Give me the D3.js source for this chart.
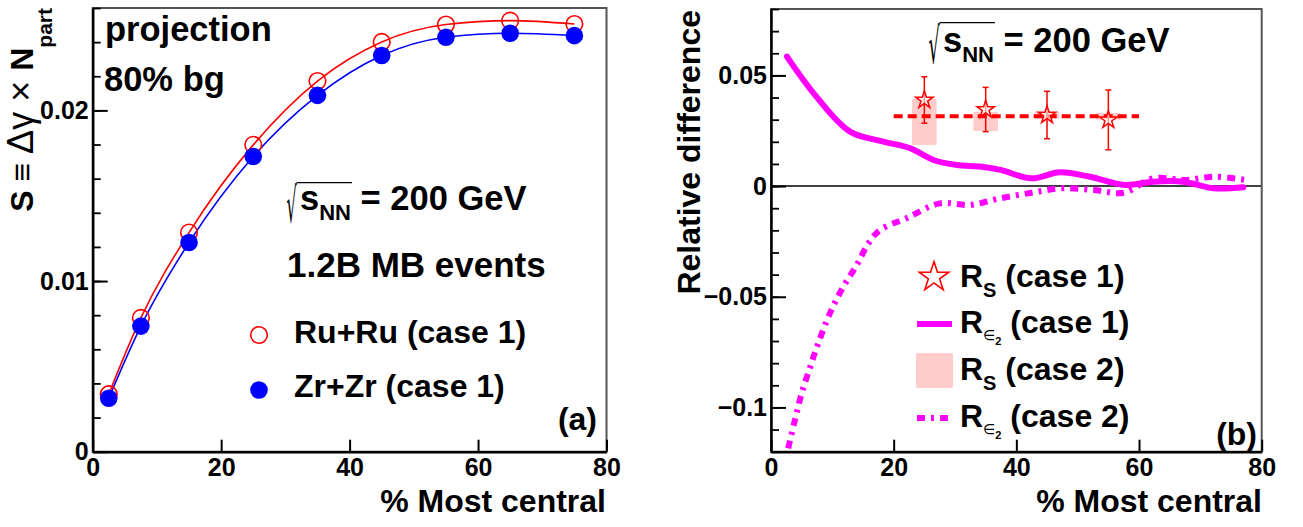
<!DOCTYPE html>
<html><head><meta charset="utf-8">
<script src="https://cdn.jsdelivr.net/npm/d3@7"></script>
<style>
body{margin:0;background:#fff}
svg{display:block}
text{font-family:"Liberation Sans",Arial,Helvetica,sans-serif;font-weight:bold;fill:#000}
</style>
</head><body>
<svg id="c" width="1303" height="527"></svg>
<script>
// ---------------- data ----------------
const centrality = [2.5, 7.5, 15, 25, 35, 45, 55, 65, 75];
const ruRu = [0.00337, 0.00784, 0.01284, 0.01798, 0.02172, 0.02401, 0.02503, 0.02526, 0.02506];
const zrZr = [0.00313, 0.00736, 0.01226, 0.01730, 0.02088, 0.02322, 0.02429, 0.02452, 0.02438];
const xTickValues = [0, 20, 40, 60, 80];
const yTicksA = [0, 0.01, 0.02];
const yTicksB = [-0.1, -0.05, 0, 0.05];

const rsX = [25, 35, 45, 55];
const rsCase1 = [0.0389, 0.0346, 0.0321, 0.0299];
const rsCase1Err = [0.0105, 0.0100, 0.0107, 0.0135];
const rsCase2Lo = [0.0186, 0.0249, 0.0305, 0.0300];
const rsCase2Hi = [0.0393, 0.0335, 0.0335, 0.0330];
const rsMean = 0.0316;
const rsMeanRange = [20, 60];

const e2Case1X = [2.6, 7.4, 12.9, 18.3, 22.7, 26.5, 30.3, 34.1, 37.4, 42.5, 47.1, 52.0, 57.7, 62.3, 67.2, 72.1, 77.0];
const e2Case1Y = [0.0585, 0.0404, 0.0246, 0.0201, 0.0171, 0.0118, 0.0095, 0.0088, 0.0073, 0.0035, 0.0062, 0.0042, 0.0005, 0.0020, 0.0020, -0.0010, -0.0005];
const e2Case2X = [2.8, 3.9, 5.0, 6.4, 7.7, 9.6, 11.8, 14.0, 15.9, 17.8, 22.1, 27.5, 32.4, 37.4, 42.5, 47.4, 52.6, 57.5, 62.3, 67.5, 72.4, 77.3];
const e2Case2Y = [-0.1185, -0.1057, -0.0936, -0.0816, -0.0710, -0.0575, -0.0454, -0.0356, -0.0258, -0.0198, -0.0145, -0.0078, -0.0085, -0.0055, -0.0030, -0.0010, -0.0018, -0.0030, 0.0035, 0.0028, 0.0042, 0.0028];

// ---------------- setup ----------------
const svg = d3.select('#c');
const RED = '#ff0000', BLUE = '#0000ff', MAG = '#ff00ff', PINK = '#ffcccc';

const xA = d3.scaleLinear([0, 80], [92.7, 606.5]);
const yA = d3.scaleLinear([0, 0.026], [451.7, 8]);
const xB = d3.scaleLinear([0, 80], [771, 1261.7]);
const yB = d3.scaleLinear([-0.12, 0.08], [451.7, 9]);

function drawAxes(x, y, yMajor, yMinorStep, fmt) {
  const g = svg.append('g');
  const [x0, x1] = x.range(), [y0, y1] = y.range();
  g.append('rect').attr('x', x0).attr('y', y1).attr('width', x1 - x0).attr('height', y0 - y1)
    .attr('fill', 'none').attr('stroke', '#555').attr('stroke-width', 2);
  const [d0, d1] = y.domain();
  const minor = d3.range(Math.round(d0 / yMinorStep), Math.round(d1 / yMinorStep) + 1).map(i => i * yMinorStep);
  g.append('g').attr('transform', `translate(${x0},0)`)
    .call(d3.axisLeft(y).tickValues(minor).tickSize(-8).tickSizeOuter(0).tickFormat(''))
    .call(s => s.select('.domain').remove())
    .call(s => s.selectAll('line').attr('stroke', '#000').attr('stroke-width', 1.8));
  g.append('g').attr('transform', `translate(${x0},0)`)
    .call(d3.axisLeft(y).tickValues(yMajor).tickSize(-15).tickSizeOuter(0).tickPadding(4).tickFormat(fmt))
    .call(s => s.select('.domain').attr('stroke', '#000').attr('stroke-width', 2.5))
    .call(s => s.selectAll('line').attr('stroke', '#000').attr('stroke-width', 2))
    .call(s => s.selectAll('text').attr('font-size', 25).style('font-family', '"Liberation Sans",Arial,sans-serif').style('font-weight', 'bold'));
  g.append('g').attr('transform', `translate(0,${y0})`)
    .call(d3.axisBottom(x).tickValues(xTickValues).tickSize(-12).tickSizeOuter(0).tickPadding(7).tickFormat(d3.format('d')))
    .call(s => s.select('.domain').attr('stroke', '#000').attr('stroke-width', 2.5))
    .call(s => s.selectAll('line').attr('stroke', '#000').attr('stroke-width', 2))
    .call(s => s.selectAll('text').attr('font-size', 25).style('font-family', '"Liberation Sans",Arial,sans-serif').style('font-weight', 'bold'));
  return g;
}

function label(x, y, s, size, anchor) {
  return svg.append('text').attr('x', x).attr('y', y).attr('font-size', size)
    .attr('text-anchor', anchor || 'start').text(s);
}

function radical(x0, x1, y0, y1) {
  const fs = 40;
  const ctx = document.createElement('canvas').getContext('2d');
  ctx.font = `${fs}px "DejaVu Sans"`;
  const m = ctx.measureText('\u221A');
  const inkL = -m.actualBoundingBoxLeft, inkR = m.actualBoundingBoxRight;
  const inkT = -m.actualBoundingBoxAscent, inkB = m.actualBoundingBoxDescent;
  const sx = (x1 - x0) / (inkR - inkL), sy = (y1 - y0) / (inkB - inkT);
  svg.append('text').text('\u221A').attr('font-size', fs)
    .style('font-family', '"DejaVu Sans"').style('font-weight', 'normal')
    .attr('transform', `translate(${x0 - inkL * sx},${y0 - inkT * sy}) scale(${sx},${sy})`);
}

function sqrtLabel(rx0, rx1, ry0, ry1, sx, base) {
  radical(rx0, rx1, ry0, ry1);
  const t = svg.append('text').attr('x', sx).attr('y', base).attr('font-size', 34.5);
  t.append('tspan').text('s');
  t.append('tspan').attr('font-size', 22).attr('dy', 10).text('NN');
  t.append('tspan').attr('dy', -10).text(' = 200 GeV');
  const endNN = t.node().getEndPositionOfChar(2).x;
  svg.append('line').attr('x1', rx1 - 0.5).attr('x2', endNN + 1).attr('y1', ry0 + 0.6).attr('y2', ry0 + 0.6)
    .attr('stroke', '#000').attr('stroke-width', 1.2);
}

// ---------------- panel (a) ----------------
const lineA = d3.line().x(d => xA(d[0])).y(d => yA(d[1])).curve(d3.curveMonotoneX);
svg.append('path').attr('d', lineA(d3.zip(centrality, ruRu))).attr('fill', 'none').attr('stroke', RED).attr('stroke-width', 1.6);
svg.append('path').attr('d', lineA(d3.zip(centrality, zrZr))).attr('fill', 'none').attr('stroke', BLUE).attr('stroke-width', 1.6);
svg.append('g').selectAll('circle').data(d3.zip(centrality, ruRu)).join('circle')
  .attr('cx', d => xA(d[0])).attr('cy', d => yA(d[1])).attr('r', 8.3)
  .attr('fill', 'none').attr('stroke', RED).attr('stroke-width', 1.6);
svg.append('g').selectAll('circle').data(d3.zip(centrality, zrZr)).join('circle')
  .attr('cx', d => xA(d[0])).attr('cy', d => yA(d[1])).attr('r', 8.8).attr('fill', BLUE);

drawAxes(xA, yA, yTicksA, 0.002, d => d === 0 ? '0' : d3.format('')(d));

label(105, 41, 'projection', 34.5);
label(104, 91, '80% bg', 34.5);
sqrtLabel(287, 297, 182, 223, 300, 210);
label(287, 277, '1.2B MB events', 35);
svg.append('circle').attr('cx', 259).attr('cy', 335).attr('r', 8.3).attr('fill', 'none').attr('stroke', RED).attr('stroke-width', 1.6);
label(294, 343, 'Ru+Ru (case 1)', 32);
svg.append('circle').attr('cx', 259).attr('cy', 390).attr('r', 8.8).attr('fill', BLUE);
label(294, 397, 'Zr+Zr (case 1)', 32);
label(597, 430, '(a)', 32, 'end');
label(606, 512, '% Most central', 32, 'end');
{
  const t = svg.append('text').attr('transform', 'translate(33,8) rotate(-90)').attr('text-anchor', 'end').attr('font-size', 32);
  t.append('tspan').text('S \u2261 ');
  t.append('tspan').style('font-weight', 'normal').attr('font-size', 36).text('\u0394\u03B3 \u00D7 ');
  t.append('tspan').text('N');
  t.append('tspan').attr('font-size', 21).attr('dy', 19).text('part');
}

// ---------------- panel (b) ----------------
svg.append('line').attr('x1', xB(0)).attr('x2', xB(80)).attr('y1', yB(0)).attr('y2', yB(0))
  .attr('stroke', '#000').attr('stroke-width', 1.5);
svg.append('g').selectAll('rect').data(d3.range(rsX.length)).join('rect')
  .attr('x', i => xB(rsX[i] - 2)).attr('width', i => xB(rsX[i] + 2) - xB(rsX[i] - 2))
  .attr('y', i => yB(rsCase2Hi[i])).attr('height', i => yB(rsCase2Lo[i]) - yB(rsCase2Hi[i]))
  .attr('fill', PINK);
const lineB = d3.line().x(d => xB(d[0])).y(d => yB(d[1])).curve(d3.curveCatmullRom.alpha(0.5));
svg.append('path').attr('d', lineB(d3.zip(e2Case2X, e2Case2Y))).attr('fill', 'none')
  .attr('stroke', MAG).attr('stroke-width', 6).attr('stroke-dasharray', '8,6,3,6');
svg.append('path').attr('d', lineB(d3.zip(e2Case1X, e2Case1Y))).attr('fill', 'none')
  .attr('stroke', MAG).attr('stroke-width', 6).attr('stroke-linecap', 'round');
svg.append('line').attr('x1', xB(rsMeanRange[0])).attr('x2', xB(rsMeanRange[1]))
  .attr('y1', yB(rsMean)).attr('y2', yB(rsMean))
  .attr('stroke', RED).attr('stroke-width', 4).attr('stroke-dasharray', '9,5');
const eb = svg.append('g').attr('stroke', RED).attr('stroke-width', 1.5);
rsX.forEach((x, i) => {
  const cx = xB(x), top = yB(rsCase1[i] + rsCase1Err[i]), bot = yB(rsCase1[i] - rsCase1Err[i]);
  eb.append('line').attr('x1', cx).attr('x2', cx).attr('y1', top).attr('y2', bot);
  eb.append('line').attr('x1', cx - 3).attr('x2', cx + 3).attr('y1', top).attr('y2', top);
  eb.append('line').attr('x1', cx - 3).attr('x2', cx + 3).attr('y1', bot).attr('y2', bot);
});
const star = d3.symbol(d3.symbolStar);
svg.append('g').selectAll('path').data(d3.zip(rsX, rsCase1)).join('path')
  .attr('d', star.size(95)())
  .attr('transform', d => `translate(${xB(d[0])},${yB(d[1])})`)
  .attr('fill', '#fff').attr('fill-opacity', 0.6).attr('stroke', RED).attr('stroke-width', 1.5);

drawAxes(xB, yB, yTicksB, 0.01, d => d === 0 ? '0' : d3.format('')(d));

sqrtLabel(929, 940, 22, 64, 943, 52);
label(1257, 445, '(b)', 32, 'end');
label(1262, 512, '% Most central', 32, 'end');
svg.append('text').attr('transform', 'translate(700,10) rotate(-90)').attr('text-anchor', 'end')
  .attr('font-size', 32).text('Relative difference');

// legend (b)
svg.append('path').attr('d', d3.symbol(d3.symbolStar).size(270)()).attr('transform', 'translate(934,277)')
  .attr('fill', 'none').attr('stroke', RED).attr('stroke-width', 1.6);
svg.append('line').attr('x1', 917).attr('x2', 952).attr('y1', 324).attr('y2', 324).attr('stroke', MAG).attr('stroke-width', 6);
svg.append('rect').attr('x', 916).attr('y', 353).attr('width', 37).attr('height', 35).attr('rx', 2).attr('fill', PINK);
svg.append('line').attr('x1', 917).attr('x2', 953).attr('y1', 418).attr('y2', 418).attr('stroke', MAG).attr('stroke-width', 6).attr('stroke-dasharray', '8,6,3,6');

function legText(y, sub, rest) {
  const t = svg.append('text').attr('x', 960).attr('y', y).attr('font-size', 32);
  t.append('tspan').text('R');
  if (sub === 'S') {
    t.append('tspan').attr('font-size', 20).attr('dy', 10).text('S');
    t.append('tspan').attr('dy', -10).text(' ' + rest);
  } else {
    t.append('tspan').attr('font-size', 14).attr('dy', 7).style('font-weight', 'normal').style('font-family', '"DejaVu Sans"').text('\u2208');
    t.append('tspan').attr('font-size', 11).attr('dy', 5).text('2');
    t.append('tspan').attr('dy', -12).text('  ' + rest);
  }
}
legText(287, 'S', '(case 1)');
legText(333, 'e', '(case 1)');
legText(380, 'S', '(case 2)');
legText(427, 'e', '(case 2)');
</script>
</body></html>
